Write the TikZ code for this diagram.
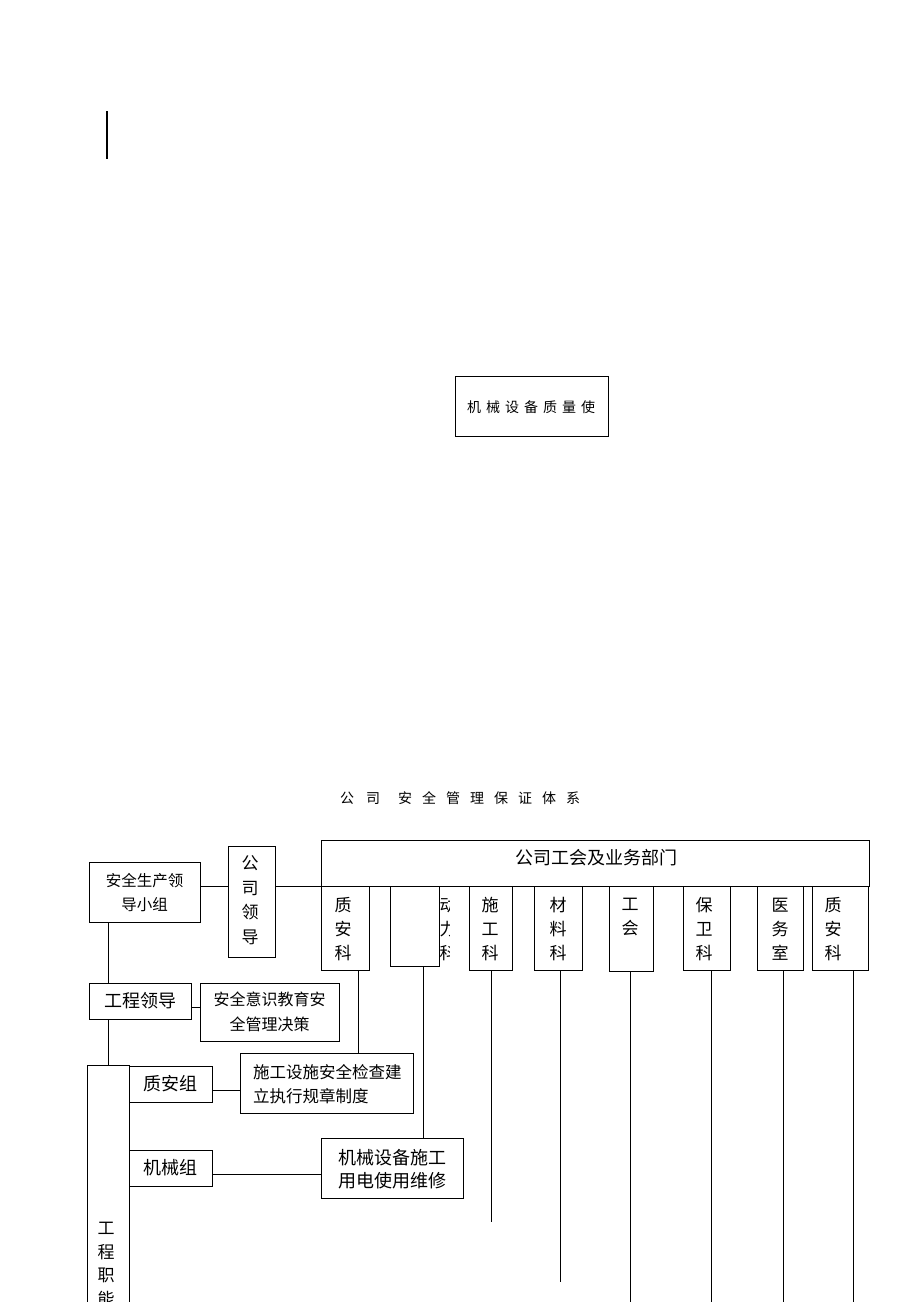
\documentclass[tikz,border=0pt]{standalone}
\usepackage{fontspec}
\setmainfont{Noto Sans CJK SC}
\usetikzlibrary{fit}
\tikzset{
  box/.style={draw, line width=0.8pt, inner sep=0pt, outer sep=0pt},
  ln/.style={line width=0.8pt},
  vt/.style={inner sep=0pt, align=center, font=\fontsize{17}{24}\selectfont},
  tx/.style={inner sep=0pt, align=center},
}
\begin{document}
\begin{tikzpicture}[x=1pt,y=-1pt]
\useasboundingbox (0,0) rectangle (920,1302);
\fill[white] (0,0) rectangle (920,1302);
% top-left mark
\coordinate (m1) at (107,111);
\coordinate (m2) at (107,159);
\draw[line width=1.5pt] (m1) -- (m2);
% upper box
\node[box, fit={(455,376)(608,436)}] (jxzl) {};
\node[tx, anchor=west, font=\fontsize{14}{16}\selectfont] at (467,407) {机\hspace{5pt}械\hspace{5pt}设\hspace{5pt}备\hspace{5pt}质\hspace{5pt}量\hspace{5pt}使};
% title
\node[tx, anchor=west, font=\fontsize{14}{16}\selectfont] (title) at (340,798) {公\hspace{12pt}司\hspace{18pt}安\hspace{10pt}全\hspace{10pt}管\hspace{10pt}理\hspace{10pt}保\hspace{10pt}证\hspace{10pt}体\hspace{10pt}系};
% big box
\node[box, fit={(321,840)(869,886)}] (big) {};
\node[tx, font=\fontsize{18}{20}\selectfont] at (596,858) {公司工会及业务部门};
% left boxes
\node[box, fit={(89,862)(200,922)}] (aqsc) {};
\node[tx, font=\fontsize{15.5}{24}\selectfont] at (144.5,893) {安全生产领\\导小组};
\node[box, fit={(228,846)(275,957)}] (gsld) {};
\node[vt, font=\fontsize{17}{24.5}\selectfont] at (250,900) {公\\司\\领\\导};
% sub boxes
\node[box, fit={(321,886)(369,970)}] (zak1) {};
\node[vt] at (343,929) {质\\安\\科};
\node[box, fit={(390,886)(439,966)}] (empty) {};
\begin{scope}
\clip (440,887) rectangle (449,969);
\node[vt] at (448,929) {动\\力\\科};
\end{scope}
\node[box, fit={(469,886)(512,970)}] (sgk) {};
\node[vt] at (490,929) {施\\工\\科};
\node[box, fit={(534,886)(582,970)}] (clk) {};
\node[vt] at (558,929) {材\\料\\科};
\node[box, fit={(609,886)(653,971)}] (gh) {};
\node[vt] at (630,917) {工\\会};
\node[box, fit={(683,886)(730,970)}] (bwk) {};
\node[vt] at (704,929) {保\\卫\\科};
\node[box, fit={(757,886)(803,970)}] (yws) {};
\node[vt] at (780,929) {医\\务\\室};
\node[box, fit={(812,886)(868,970)}] (zak2) {};
\node[vt] at (833,929) {质\\安\\科};
% connectors top
\draw[ln] (aqsc.east |- 0,886) -- (gsld.west |- 0,886);
\draw[ln] (gsld.east |- 0,886) -- (big.south west);
% engineering
\node[box, fit={(89,983)(191,1019)}] (gcld) {};
\node[tx, font=\fontsize{18}{20}\selectfont] at (140,1001) {工程领导};
\node[box, fit={(200,983)(339,1041)}] (aqys) {};
\node[tx, font=\fontsize{16}{24.5}\selectfont] at (269.5,1012) {安全意识教育安\\全管理决策};
\draw[ln] (aqsc.south -| 108,0) -- (gcld.north -| 108,0);
\draw[ln] (gcld.east |- 0,1007) -- (aqys.west |- 0,1007);
\node[box, fit={(87,1065)(129,1320)}] (gczn) {};
\node[vt, font=\fontsize{17}{23.5}\selectfont, anchor=north] at (106,1222) {工\\程\\职\\能};
\draw[ln] (gcld.south -| 108,0) -- (gczn.north -| 108,0);
\node[box, fit={(129,1066)(212,1102)}] (zaz) {};
\node[tx, font=\fontsize{18}{20}\selectfont] at (170.5,1084) {质安组};
\node[box, fit={(240,1053)(413,1113)}] (sgss) {};
\node[tx, align=left, anchor=west, font=\fontsize{16.5}{24}\selectfont] at (253,1084) {施工设施安全检查建\\立执行规章制度};
\draw[ln] (zaz.east |- 0,1090) -- (sgss.west |- 0,1090);
\node[box, fit={(129,1150)(212,1186)}] (jxz) {};
\node[tx, font=\fontsize{18}{20}\selectfont] at (170.5,1168) {机械组};
\node[box, fit={(321,1138)(463,1198)}] (jxsb) {};
\node[tx, font=\fontsize{18}{23.5}\selectfont] at (392,1169) {机械设备施工\\用电使用维修};
\draw[ln] (jxz.east |- 0,1174) -- (jxsb.west |- 0,1174);
% verticals from sub boxes
\draw[ln] (zak1.south -| 358,0) -- (sgss.north -| 358,0);
\draw[ln] (empty.south -| 423,0) -- (jxsb.north -| 423,0);
\coordinate (e1) at (491,1222);
\coordinate (e2) at (560,1282);
\coordinate (e3) at (630,1302);
\coordinate (e4) at (711,1302);
\coordinate (e5) at (783,1302);
\coordinate (e6) at (853,1302);
\draw[ln] (sgk.south -| e1) -- (e1);
\draw[ln] (clk.south -| e2) -- (e2);
\draw[ln] (gh.south -| e3) -- (e3);
\draw[ln] (bwk.south -| e4) -- (e4);
\draw[ln] (yws.south -| e5) -- (e5);
\draw[ln] (zak2.south -| e6) -- (e6);
\end{tikzpicture}
\end{document}
